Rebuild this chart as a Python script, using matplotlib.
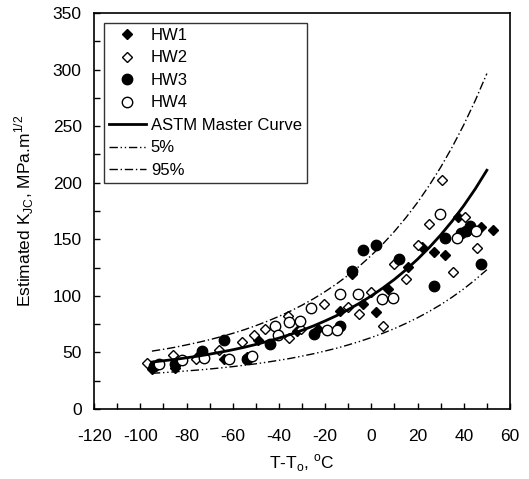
import matplotlib
matplotlib.use("Agg")
import matplotlib.pyplot as plt
from matplotlib.ticker import MultipleLocator

plt.rcParams['font.family'] = ['Liberation Sans', 'DejaVu Sans']
plt.rcParams['axes.unicode_minus'] = False

# measured points, T-To (degC) and estimated KJC (MPa.m^1/2)
hw1_t = [-95, -85, -75, -64, -54, -49, -32, -23, -13.5, -8.5, -3.5, 2, 7, 16, 22, 27, 32, 37.5, 42, 47.5, 52.5]
hw1_k = [35, 36, 47, 44, 46, 61, 69, 71, 87, 119, 93, 86, 106, 125.5, 143, 139, 136, 170, 157, 161, 158]

hw2_t = [-97, -86, -76, -66, -56, -51, -46, -36, -35.5, -30.5, -20.5, -10, -5.3, 0, 5, 10, 15, 20, 25, 30.5, 35.5, 40.7, 45.7]
hw2_k = [41, 48, 44, 52, 59, 65, 71, 82, 63, 71, 93, 90, 84, 103, 73, 128, 115, 145, 163.5, 202, 121, 170, 142]

hw3_t = [-94, -85, -73.5, -64, -54, -44, -25, -13.5, -8.5, -3.5, 2, 12, 27, 32, 39, 41, 42.5, 47.5]
hw3_k = [38, 40, 51, 61, 44, 57.5, 66, 73, 122, 140.5, 145, 132.5, 108.5, 151, 156, 157.5, 161.5, 128]

hw4_t = [-92, -82, -72.5, -61.5, -51.5, -41.5, -40.5, -35.5, -31, -26, -19, -15, -13.6, -5.6, 4.5, 9.5, 29.7, 37, 45.3]
hw4_k = [39.5, 43, 45, 44.5, 47, 73, 65, 77, 77.5, 89, 70, 69.5, 101.5, 101.5, 97.5, 98.4, 172.5, 151.5, 157.5]

# master curve and tolerance bounds, read every 5 degC
curve_t = [-95, -90, -85, -80, -75, -70, -65, -60, -55, -50, -45, -40, -35, -30, -25,
           -20, -15, -10, -5, 0, 5, 10, 15, 20, 25, 30, 35, 40, 45, 50]
median_k = [41.5, 42.7, 43.9, 45.3, 46.8, 48.5, 50.4, 52.4, 54.6, 57.1, 59.8, 62.7, 66.0, 69.6, 73.5,
            77.9, 82.6, 87.9, 93.7, 100.0, 107.0, 114.6, 123.1, 132.4, 142.6, 153.8, 166.1, 179.7, 194.6, 211.0]
low_k = [31.6, 32.2, 32.9, 33.7, 34.5, 35.4, 36.4, 37.5, 38.7, 40.0, 41.5, 43.1, 44.8, 46.8, 48.9,
         51.3, 53.8, 56.7, 59.8, 63.2, 67.0, 71.1, 75.7, 80.7, 86.2, 92.2, 98.9, 106.2, 114.3, 123.1]
high_k = [51.2, 52.8, 54.6, 56.7, 58.9, 61.3, 64.0, 66.9, 70.1, 73.7, 77.6, 81.9, 86.6, 91.8, 97.5,
          103.8, 110.7, 118.3, 126.6, 135.8, 145.9, 157.0, 169.2, 182.6, 197.4, 213.6, 231.5, 251.1, 272.7, 296.4]

fig = plt.figure(figsize=(5.29, 4.79), dpi=100)
ax = fig.add_axes([0.178, 0.146, 0.786, 0.827])

ax.plot(hw1_t, hw1_k, 'D', color='black', ms=5, ls='none', label='HW1')
ax.plot(hw2_t, hw2_k, 'D', mfc='white', mec='black', mew=1, ms=5, ls='none', label='HW2')
ax.plot(hw3_t, hw3_k, 'o', color='black', ms=7.5, ls='none', label='HW3')
ax.plot(hw4_t, hw4_k, 'o', mfc='white', mec='black', mew=1, ms=7.5, ls='none', label='HW4')
ax.plot(curve_t, median_k, '-', color='black', lw=2, label='ASTM Master Curve')
ax.plot(curve_t, low_k, color='black', lw=1, dashes=(6, 2, 1, 2, 1, 2), label='5%')
ax.plot(curve_t, high_k, color='black', lw=1, dashes=(6, 2, 1, 2), label='95%')

ax.set_xlim(-120, 60)
ax.set_ylim(0, 350)
ax.xaxis.set_major_locator(MultipleLocator(20))
ax.xaxis.set_minor_locator(MultipleLocator(10))
ax.yaxis.set_major_locator(MultipleLocator(50))
ax.yaxis.set_minor_locator(MultipleLocator(25))
ax.tick_params(which='both', direction='in', length=4, width=1, labelsize=12.5,
               top=False, right=False)
ax.tick_params(axis='x', pad=14)
ax.tick_params(axis='y', pad=9)
for s in ax.spines.values():
    s.set_linewidth(1.2)

ax.set_xlabel('T-T$_\\mathregular{o}$, $^\\mathregular{o}$C', fontsize=12.5, labelpad=6)
ax.set_ylabel('Estimated K$_\\mathregular{JC}$, MPa.m$^\\mathregular{1/2}$', fontsize=12.5, labelpad=12)

leg = ax.legend(loc='upper left', fontsize=12, frameon=True, fancybox=False,
                edgecolor='black', handlelength=2.2, handletextpad=0.3,
                labelspacing=0.45, borderaxespad=0.6, borderpad=0.3)
leg.get_frame().set_linewidth(1)

fig.savefig('out.png', dpi=100)
